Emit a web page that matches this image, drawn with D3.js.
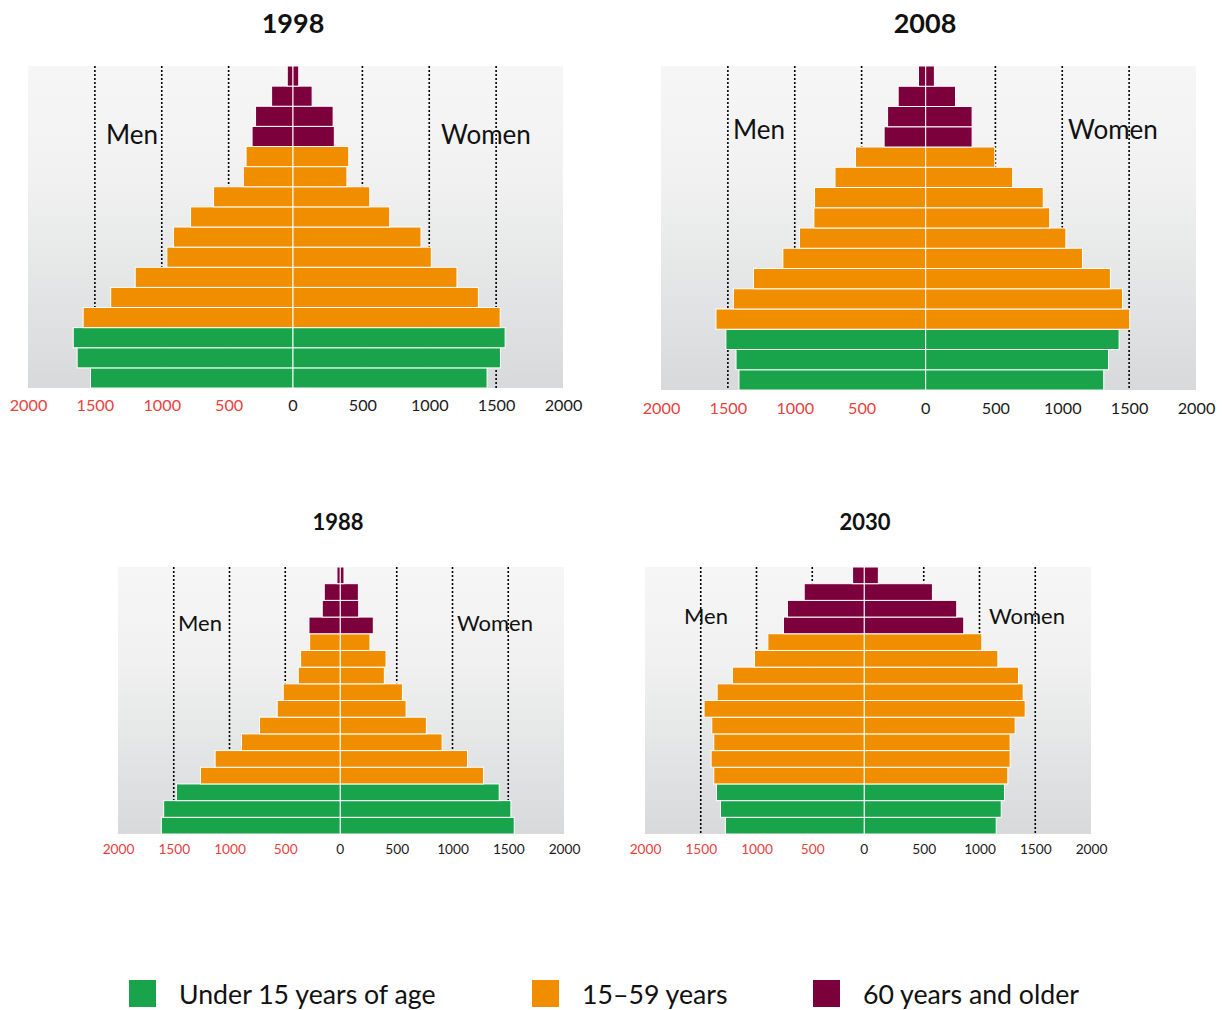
<!DOCTYPE html>
<html>
<head>
<meta charset="utf-8">
<script src="https://cdn.jsdelivr.net/npm/d3@7/dist/d3.min.js"></script>
<style>
  html, body { margin: 0; padding: 0; background: #fff; }
  svg { display: block; }
  text { font-family: Lato, "Noto Sans", sans-serif; }
</style>
</head>
<body>
<svg id="chart" width="1222" height="1010"></svg>
<script>
// ---------------- DATA ----------------
// Age groups, youngest first (drawn bottom to top)
const ageGroups = ["0-4","5-9","10-14","15-19","20-24","25-29","30-34","35-39",
                   "40-44","45-49","50-54","55-59","60-64","65-69","70-74","75+"];
const categories = ["Under 15 years of age", "15–59 years", "60 years and older"];
const categoryOfAge = ["Under 15 years of age","Under 15 years of age","Under 15 years of age",
  "15–59 years","15–59 years","15–59 years","15–59 years","15–59 years","15–59 years",
  "15–59 years","15–59 years","15–59 years",
  "60 years and older","60 years and older","60 years and older","60 years and older"];

const years = ["1998", "2008", "1988", "2030"];

// values in thousands, youngest group first
const men1998   = [1514,1614,1643,1569,1363,1180,943,894,766,594,371,351,306,280,160,43];
const women1998 = [1451,1551,1586,1549,1386,1226,1034,957,723,574,403,417,309,300,143,43];
const men2008   = [1396,1418,1494,1568,1438,1288,1068,944,836,831,678,525,311,285,206,54];
const women2008 = [1331,1367,1446,1525,1472,1381,1172,1048,927,879,650,517,347,347,223,65];
const men1988   = [1605,1584,1470,1254,1123,886,725,566,512,377,356,275,281,162,144,30];
const women1988 = [1560,1530,1425,1284,1141,913,772,590,557,395,410,266,296,165,162,33];
const men2030   = [1246,1290,1326,1350,1374,1350,1368,1437,1320,1183,985,865,725,689,539,105];
const women2030 = [1183,1228,1257,1287,1308,1308,1353,1443,1425,1383,1198,1054,892,829,611,126];

const tickValues = [-2000,-1500,-1000,-500,0,500,1000,1500,2000];
const gridValues = [-1500,-1000,-500,500,1000,1500];
const sideLabels = ["Men", "Women"];

const seriesByYear = {
  "1998": [men1998, women1998],
  "2008": [men2008, women2008],
  "1988": [men1988, women1988],
  "2030": [men2030, women2030]
};

// ---------------- LAYOUT ----------------
const layout = {
  "1998": {x0: 28,  x1: 563,  y0: 66,  y1: 388, zeroShift: -2.5, titleX: 293, titleY: 33,  titleSize: 27, tickY: 411, tickSize: 16.2,
           labelSize: 26, menX: 106, womenX: 441, labelY: 144},
  "2008": {x0: 661, x1: 1196, y0: 66,  y1: 390, zeroShift: -2.8, titleX: 925, titleY: 33,  titleSize: 27, tickY: 414, tickSize: 16.2,
           labelSize: 26, menX: 733, womenX: 1068, labelY: 139},
  "1988": {x0: 118, x1: 564,  y0: 567, y1: 834, zeroShift: -0.7, titleX: 338, titleY: 530, titleSize: 22, tickY: 854, tickSize: 13.7,
           labelSize: 22, menX: 178, womenX: 457, labelY: 631},
  "2030": {x0: 645, x1: 1091, y0: 567, y1: 834, zeroShift: -3.7, titleX: 865, titleY: 530, titleSize: 22, tickY: 854, tickSize: 13.7,
           labelSize: 22, menX: 684, womenX: 989, labelY: 624}
};

const color = d3.scaleOrdinal()
  .domain(categories)
  .range(["#19a34a", "#f18e00", "#7b003b"]);

const svg = d3.select("#chart");
const defs = svg.append("defs");
const grad = defs.append("linearGradient")
  .attr("id", "bgGrad").attr("x1", 0).attr("y1", 0).attr("x2", 0).attr("y2", 1);
grad.append("stop").attr("offset", "0%").attr("stop-color", "#f5f6f5");
grad.append("stop").attr("offset", "35%").attr("stop-color", "#f0f1f0");
grad.append("stop").attr("offset", "100%").attr("stop-color", "#d8d9db");

years.forEach(year => {
  const L = layout[year];
  const [menVals, womenVals] = seriesByYear[year];

  // grid / tick scale
  const x = d3.scaleLinear().domain([-2000, 2000]).range([L.x0, L.x1]);
  // bar scale: same units, origin at the drawn centre divider
  const xb = x.copy().range([L.x0 + L.zeroShift, L.x1 + L.zeroShift]);
  const y = d3.scaleBand()
    .domain(ageGroups.slice().reverse())
    .range([L.y0, L.y1])
    .paddingInner(0).paddingOuter(0);

  const g = svg.append("g");

  // background
  g.append("rect")
    .attr("x", L.x0).attr("y", L.y0)
    .attr("width", L.x1 - L.x0).attr("height", L.y1 - L.y0)
    .attr("fill", "url(#bgGrad)");

  // dotted grid lines
  g.selectAll("line.grid").data(gridValues).join("line")
    .attr("class", "grid")
    .attr("x1", d => x(d)).attr("x2", d => x(d))
    .attr("y1", L.y0).attr("y2", L.y1)
    .attr("stroke", "#000")
    .attr("stroke-width", 1.6)
    .attr("stroke-dasharray", "2,2");

  // men bars
  g.selectAll("rect.men").data(ageGroups).join("rect")
    .attr("class", "men")
    .attr("x", (d, i) => xb(-menVals[i]))
    .attr("y", d => y(d))
    .attr("width", (d, i) => xb(0) - xb(-menVals[i]))
    .attr("height", y.bandwidth())
    .attr("fill", (d, i) => color(categoryOfAge[i]))
    .attr("stroke", "#fff")
    .attr("stroke-width", 1);

  // women bars
  g.selectAll("rect.women").data(ageGroups).join("rect")
    .attr("class", "women")
    .attr("x", xb(0))
    .attr("y", d => y(d))
    .attr("width", (d, i) => xb(womenVals[i]) - xb(0))
    .attr("height", y.bandwidth())
    .attr("fill", (d, i) => color(categoryOfAge[i]))
    .attr("stroke", "#fff")
    .attr("stroke-width", 1);

  // axis
  const axis = d3.axisBottom(x)
    .tickValues(tickValues)
    .tickSize(0)
    .tickPadding(0)
    .tickFormat(d => Math.abs(d));
  const ax = g.append("g")
    .attr("transform", `translate(0,${L.tickY})`)
    .call(axis);
  ax.select(".domain").remove();
  ax.selectAll(".tick")
    .filter(d => d === 0)
    .attr("transform", `translate(${xb(0)},0)`);
  ax.selectAll(".tick text")
    .attr("y", 0).attr("dy", 0)
    .style("font-family", "Lato, 'Noto Sans', sans-serif")
    .style("font-size", L.tickSize + "px")
    .attr("fill", d => d < 0 ? "#e8413e" : "#1a1a1a");

  // title
  svg.append("text")
    .attr("x", L.titleX).attr("y", L.titleY)
    .attr("text-anchor", "middle")
    .style("font-size", L.titleSize + "px")
    .style("font-weight", "bold")
    .attr("fill", "#111")
    .text(year);

  // side labels
  svg.append("text")
    .attr("x", L.menX).attr("y", L.labelY)
    .style("font-size", L.labelSize + "px")
    .attr("fill", "#111")
    .text(sideLabels[0]);
  svg.append("text")
    .attr("x", L.womenX).attr("y", L.labelY)
    .style("font-size", L.labelSize + "px")
    .attr("fill", "#111")
    .text(sideLabels[1]);
});

// legend
const legendX = [129, 532, 813];
const legend = svg.append("g");
categories.forEach((c, i) => {
  legend.append("rect")
    .attr("x", legendX[i]).attr("y", 980)
    .attr("width", 27).attr("height", 27)
    .attr("fill", color(c));
  legend.append("text")
    .attr("x", legendX[i] + 50).attr("y", 1004)
    .style("font-size", "26.7px")
    .attr("fill", "#111")
    .text(c);
});
</script>
</body>
</html>
